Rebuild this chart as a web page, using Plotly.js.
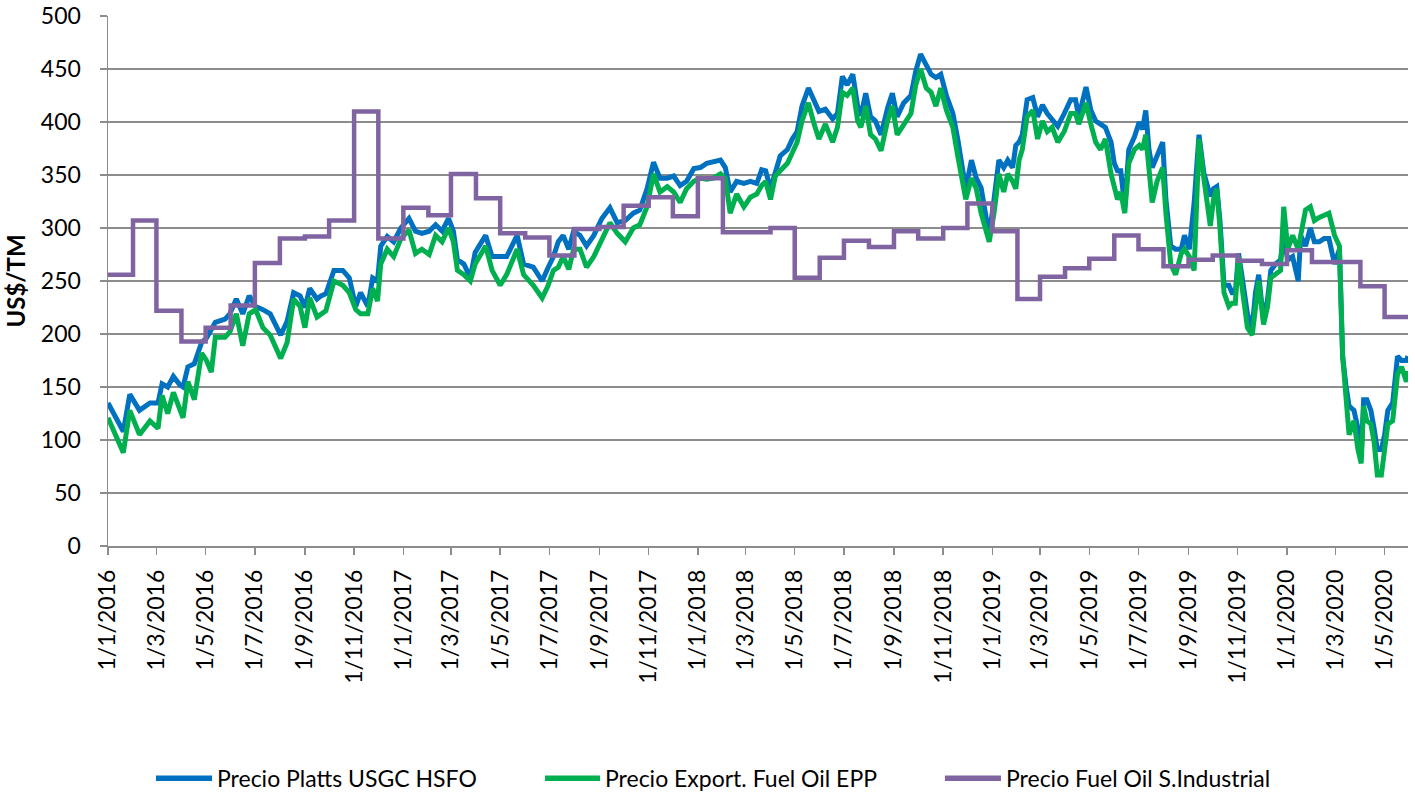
<!DOCTYPE html>
<html>
<head>
<meta charset="utf-8">
<script src="https://cdn.plot.ly/plotly-3.0.1.min.js"></script>
<style>
  html, body { margin: 0; padding: 0; background: #ffffff; }
  #chart { width: 1415px; height: 792px; }
</style>
</head>
<body>
<div id="chart"></div>
<script>
// ---- Data ----
const dates = [
"2016-01-01","2016-01-15","2016-01-20","2016-01-28","2016-02-09","2016-02-22","2016-03-03","2016-03-08","2016-03-15","2016-03-22",
"2016-03-30","2016-04-03","2016-04-09","2016-04-17","2016-04-26","2016-05-02","2016-05-08","2016-05-13","2016-05-25","2016-05-31",
"2016-06-08","2016-06-16","2016-06-24","2016-07-02","2016-07-11","2016-07-20","2016-08-02","2016-08-10","2016-08-18","2016-08-26",
"2016-09-01","2016-09-07","2016-09-16","2016-09-21","2016-09-27","2016-10-07","2016-10-18","2016-10-26","2016-11-03","2016-11-09",
"2016-11-18","2016-11-24","2016-11-30","2016-12-04","2016-12-12","2016-12-20","2016-12-29","2017-01-08","2017-01-16","2017-01-24",
"2017-02-02","2017-02-10","2017-02-18","2017-02-26","2017-03-04","2017-03-09","2017-03-17","2017-03-25","2017-03-31","2017-04-13",
"2017-04-21","2017-05-01","2017-05-09","2017-05-22","2017-05-30","2017-06-11","2017-06-22","2017-06-29","2017-07-06","2017-07-12",
"2017-07-18","2017-07-25","2017-07-31","2017-08-08","2017-08-16","2017-08-25","2017-09-04","2017-09-14","2017-09-23","2017-10-03",
"2017-10-13","2017-10-21","2017-10-30","2017-11-07","2017-11-15","2017-11-24","2017-12-02","2017-12-10","2017-12-18","2017-12-27",
"2018-01-04","2018-01-12","2018-01-20","2018-01-29","2018-02-04","2018-02-10","2018-02-18","2018-02-27","2018-03-07","2018-03-15",
"2018-03-21","2018-03-26","2018-04-01","2018-04-07","2018-04-13","2018-04-22","2018-04-28","2018-05-04","2018-05-10","2018-05-18",
"2018-05-25","2018-05-31","2018-06-08","2018-06-17","2018-06-23","2018-06-29","2018-07-05","2018-07-12","2018-07-18","2018-07-22",
"2018-07-28","2018-08-03","2018-08-09","2018-08-16","2018-08-24","2018-08-30","2018-09-05","2018-09-13","2018-09-22","2018-09-28",
"2018-10-04","2018-10-11","2018-10-17","2018-10-23","2018-10-29","2018-11-05","2018-11-13","2018-11-19","2018-11-25","2018-11-29",
"2018-12-06","2018-12-12","2018-12-18","2018-12-24","2018-12-28","2019-01-03","2019-01-09","2019-01-15","2019-01-20","2019-01-26",
"2019-01-30","2019-02-03","2019-02-07","2019-02-13","2019-02-20","2019-02-26","2019-03-04","2019-03-10","2019-03-16","2019-03-23",
"2019-03-31","2019-04-08","2019-04-14","2019-04-18","2019-04-27","2019-05-03","2019-05-09","2019-05-15","2019-05-21","2019-05-28",
"2019-06-01","2019-06-05","2019-06-09","2019-06-14","2019-06-19","2019-06-26","2019-07-02","2019-07-06","2019-07-10","2019-07-14",
"2019-07-18","2019-07-24","2019-07-31","2019-08-04","2019-08-10","2019-08-16","2019-08-23","2019-08-27","2019-09-02","2019-09-08",
"2019-09-14","2019-09-20","2019-09-24","2019-09-28","2019-10-02","2019-10-06","2019-10-10","2019-10-15","2019-10-21","2019-10-25",
"2019-10-29","2019-11-02","2019-11-06","2019-11-13","2019-11-19","2019-11-23","2019-11-27","2019-12-03","2019-12-08","2019-12-12",
"2019-12-18","2019-12-24","2019-12-28","2020-01-02","2020-01-08","2020-01-15","2020-01-18","2020-01-24","2020-01-30","2020-02-04",
"2020-02-10","2020-02-16","2020-02-22","2020-02-29","2020-03-06","2020-03-10","2020-03-14","2020-03-18","2020-03-24","2020-03-29",
"2020-04-02","2020-04-05","2020-04-09","2020-04-14","2020-04-18","2020-04-22","2020-04-27","2020-05-01","2020-05-05","2020-05-11",
"2020-05-17","2020-05-22","2020-05-28","2020-05-30"
];

const plattsUSGC = [
135,115,108,143,128,135,135,153,150,160,
152,150,169,172,192,196,205,211,214,219,
233,219,236,226,223,219,199,212,239,236,
225,243,233,236,238,260,260,253,226,239,
226,253,250,283,292,287,300,309,297,295,
297,303,297,309,297,270,266,253,277,293,
273,273,273,293,266,263,250,262,273,287,
293,280,297,293,283,293,309,319,305,307,
314,317,337,362,347,347,349,340,344,356,
357,361,362,364,357,334,344,342,344,342,
355,354,337,354,368,374,384,391,415,432,
421,410,412,403,408,443,435,445,415,406,
427,405,401,388,413,427,405,418,425,448,
464,454,445,442,445,425,408,384,357,337,
364,347,338,314,293,327,364,357,364,357,
378,381,388,421,423,405,416,408,403,396,
408,421,421,405,433,411,401,398,395,381,
361,354,354,320,374,386,400,393,411,374,
357,368,381,327,283,280,280,293,280,324,
388,352,341,330,337,339,307,246,246,239,
239,276,256,219,206,239,256,212,233,260,
266,270,290,270,273,250,293,283,300,287,
287,290,290,266,280,179,152,132,128,111,
85,138,138,128,111,91,91,105,128,135,
179,175,175,179
];

const exportEPP = [
121,98,88,128,105,118,111,142,125,145,
130,121,155,138,182,175,164,197,197,202,
219,189,219,223,206,199,177,192,233,226,
206,234,216,219,222,250,246,239,223,219,
219,243,231,266,280,273,290,298,276,280,
275,293,287,300,287,260,256,250,266,283,
260,246,256,280,256,246,234,245,260,263,
273,261,280,280,263,273,290,305,295,287,
300,303,320,351,334,339,334,324,337,344,
347,346,347,351,347,314,332,320,329,332,
340,344,327,349,354,361,371,381,401,418,
398,384,398,381,395,428,425,432,401,395,
415,388,384,373,401,415,388,398,408,435,
450,432,428,415,432,411,395,368,344,327,
347,337,314,297,287,314,351,334,351,344,
337,364,374,405,411,384,401,391,395,381,
391,408,408,398,418,398,381,374,384,351,
337,327,334,314,361,374,378,374,388,351,
324,344,357,314,266,256,276,280,273,260,
384,347,327,302,327,337,300,239,226,229,
229,273,246,206,199,223,250,209,226,253,
256,260,320,280,293,280,293,317,320,307,
310,312,314,293,283,179,135,105,118,91,
78,132,118,115,98,67,67,91,115,118,
162,169,155,165
];

const industrialDates = [
"2016-01-01","2016-02-01","2016-03-01","2016-04-01","2016-05-01","2016-06-01","2016-07-01","2016-08-01","2016-09-01","2016-10-01","2016-11-01","2016-12-01",
"2017-01-01","2017-02-01","2017-03-01","2017-04-01","2017-05-01","2017-06-01","2017-07-01","2017-08-01","2017-09-01","2017-10-01","2017-11-01","2017-12-01",
"2018-01-01","2018-02-01","2018-03-01","2018-04-01","2018-05-01","2018-06-01","2018-07-01","2018-08-01","2018-09-01","2018-10-01","2018-11-01","2018-12-01",
"2019-01-01","2019-02-01","2019-03-01","2019-04-01","2019-05-01","2019-06-01","2019-07-01","2019-08-01","2019-09-01","2019-10-01","2019-11-01","2019-12-01",
"2020-01-01","2020-02-01","2020-03-01","2020-04-01","2020-05-01","2020-05-30"
];
const industrialVals = [
256,307,222,193,206,227,267,290,292,307,410,290,
319,312,351,328,295,291,274,299,301,321,329,311,
347,296,296,300,253,272,288,282,297,290,300,323,
297,233,254,262,271,293,280,264,270,274,269,266,
279,268,268,245,216,216
];

const seriesNames = ["Precio Platts USGC HSFO", "Precio Export. Fuel Oil EPP", "Precio Fuel Oil S.Industrial"];
const seriesColors = ["#0070C0", "#00B050", "#8064A2"];

// ---- Chart ----
const FONT = "Lato, 'Open Sans', 'Liberation Sans', sans-serif";
const GRID = "#8C8C8C";

const traces = [
  { x: dates, y: plattsUSGC, type: "scatter", mode: "lines", name: seriesNames[0],
    line: { color: seriesColors[0], width: 5 } },
  { x: dates, y: exportEPP, type: "scatter", mode: "lines", name: seriesNames[1],
    line: { color: seriesColors[1], width: 5 } },
  { x: industrialDates, y: industrialVals, type: "scatter", mode: "lines", name: seriesNames[2],
    line: { color: seriesColors[2], width: 4.5, shape: "hv" } }
];

// custom legend (long line samples like the original)
const legendY = -0.438;
const legendItems = [
  { x0: 0.0369, x1: 0.0800, tx: 0.0826 },
  { x0: 0.3362, x1: 0.3785, tx: 0.3810 },
  { x0: 0.6438, x1: 0.6869, tx: 0.6895 }
];
const shapes = legendItems.map((it, i) => ({
  type: "line", xref: "paper", yref: "paper",
  x0: it.x0, x1: it.x1, y0: legendY, y1: legendY,
  line: { color: seriesColors[i], width: 5.5 }
}));
const annotations = legendItems.map((it, i) => ({
  xref: "paper", yref: "paper", x: it.tx, y: legendY,
  xanchor: "left", yanchor: "middle", showarrow: false,
  text: seriesNames[i], font: { family: FONT, size: 23, color: "#000" }
}));

const layout = {
  width: 1415, height: 792,
  margin: { l: 108, r: 7, t: 16, b: 246 },
  paper_bgcolor: "#ffffff", plot_bgcolor: "#ffffff",
  showlegend: false,
  font: { family: FONT, size: 23, color: "#000" },
  xaxis: {
    type: "date",
    range: ["2016-01-01", "2020-05-30"],
    tick0: "2016-01-01", dtick: "M2",
    tickformat: "%-d/%-m/%Y",
    tickangle: -90,
    ticks: "outside", ticklen: 7, tickwidth: 1.5, tickcolor: GRID,
    ticklabelstandoff: 6,
    showline: true, linecolor: GRID, linewidth: 1.5,
    showgrid: false, zeroline: false,
    tickfont: { family: FONT, size: 23, color: "#000" }
  },
  yaxis: {
    range: [0, 500], dtick: 50, tick0: 0,
    ticks: "outside", ticklen: 7, tickwidth: 1.5, tickcolor: GRID,
    ticklabelstandoff: 14,
    showline: true, linecolor: GRID, linewidth: 1.5,
    showgrid: true, gridcolor: GRID, gridwidth: 1.5,
    zeroline: false,
    tickfont: { family: FONT, size: 23, color: "#000" },
    title: { text: "<b>US$/TM</b>", font: { family: FONT, size: 24, color: "#000" }, standoff: 8 }
  },
  shapes: shapes,
  annotations: annotations
};

Plotly.newPlot("chart", traces, layout, { displayModeBar: false, staticPlot: true });
</script>
</body>
</html>
